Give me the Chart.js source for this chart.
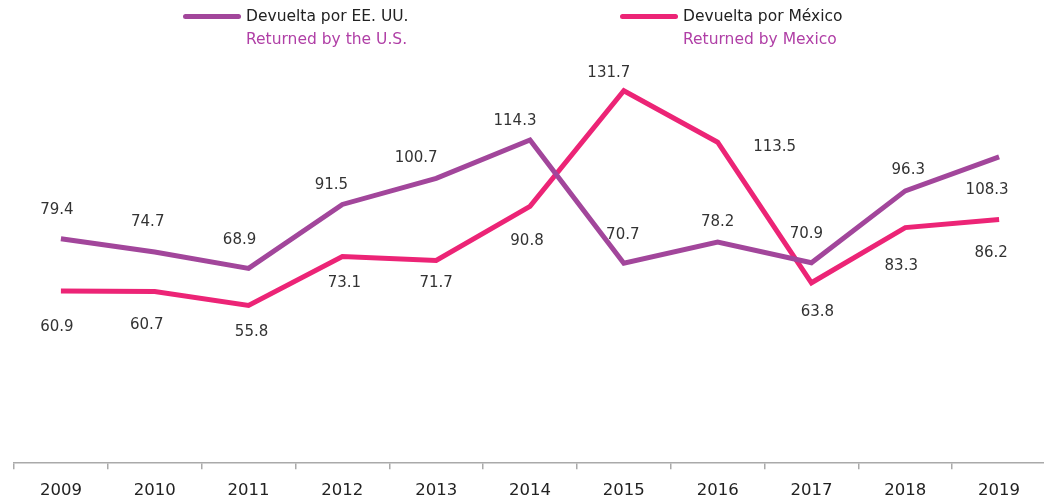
<!DOCTYPE html>
<html>
<head>
<meta charset="utf-8">
<script src="https://cdn.jsdelivr.net/npm/chart.js@4"></script>
<style>
  html, body { margin: 0; padding: 0; background: #fff; overflow: hidden; }
  body { width: 1044px; height: 502px; position: relative; font-family: "DejaVu Sans", sans-serif; }
  #wrap { position: absolute; left: 0; top: 0; width: 1048px; height: 513px; }
  .legend { position: absolute; top: 5px; font-size: 15.5px; line-height: 23px; color: #222; white-space: nowrap; }
  .legend .swatch { position: absolute; left: -63px; top: 9px; width: 58px; height: 5px; border-radius: 3px; }
  .legend .en { color: #b03fa6; }
</style>
</head>
<body>
<div id="wrap"><canvas id="chart"></canvas></div>
<div class="legend" style="left:246px">
  <span class="swatch" style="background:#a2469b"></span>
  <div>Devuelta por EE. UU.</div>
  <div class="en">Returned by the U.S.</div>
</div>
<div class="legend" style="left:683px">
  <span class="swatch" style="background:#ec2476"></span>
  <div>Devuelta por México</div>
  <div class="en">Returned by Mexico</div>
</div>
<script>
// Yearly series
const years = ['2009', '2010', '2011', '2012', '2013', '2014', '2015', '2016', '2017', '2018', '2019'];
const returnedByUS = [79.4, 74.7, 68.9, 91.5, 100.7, 114.3, 70.7, 78.2, 70.9, 96.3, 108.3];
const returnedByMexico = [60.9, 60.7, 55.8, 73.1, 71.7, 90.8, 131.7, 113.5, 63.8, 83.3, 86.2];

// Where each value label sits relative to its point [dx, dy]
const labelOffsets = [
  [[-4, -29], [-7, -30], [-9, -28], [-11, -19], [-20, -20], [-15, -19], [-1, -28], [0, -20], [-5, -29], [3, -21], [-12, 33]],
  [[-4, 36], [-8, 34], [3, 27], [2, 27], [0, 23], [-3, 35], [-15, -18], [57, 5], [6, 29], [-4, 38], [-8, 34]]
];

const valueLabels = {
  id: 'valueLabels',
  afterDatasetsDraw(chart) {
    const ctx = chart.ctx;
    ctx.save();
    ctx.font = '15px "DejaVu Sans", sans-serif';
    ctx.fillStyle = '#333';
    ctx.textAlign = 'center';
    ctx.textBaseline = 'middle';
    chart.data.datasets.forEach((ds, di) => {
      chart.getDatasetMeta(di).data.forEach((pt, i) => {
        const [dx, dy] = labelOffsets[di][i];
        ctx.fillText(ds.data[i].toFixed(1), pt.x + dx, pt.y + dy);
      });
    });
    ctx.restore();
  }
};

new Chart(document.getElementById('chart'), {
  type: 'line',
  data: {
    labels: years,
    datasets: [
      {
        label: 'Devuelta por EE. UU.',
        data: returnedByUS,
        borderColor: '#a2469b',
        borderWidth: 5,
        pointRadius: 0,
        tension: 0,
        clip: false
      },
      {
        label: 'Devuelta por México',
        data: returnedByMexico,
        borderColor: '#ec2476',
        borderWidth: 5,
        pointRadius: 0,
        tension: 0,
        clip: false
      }
    ]
  },
  options: {
    responsive: true,
    maintainAspectRatio: false,
    animation: false,
    layout: { padding: { left: 14, right: 2, top: 39, bottom: 0 } },
    plugins: {
      legend: { display: false },
      tooltip: { enabled: false }
    },
    scales: {
      x: {
        offset: true,
        border: { color: '#aaa', width: 1.5 },
        grid: { offset: true, drawOnChartArea: false, color: '#aaa', tickLength: 6, lineWidth: 1.5 },
        ticks: { color: '#222', font: { size: 16.5, family: '"DejaVu Sans", sans-serif' }, padding: 12 }
      },
      y: {
        display: false,
        min: 0,
        max: 150
      }
    }
  },
  plugins: [valueLabels]
});
</script>
</body>
</html>
